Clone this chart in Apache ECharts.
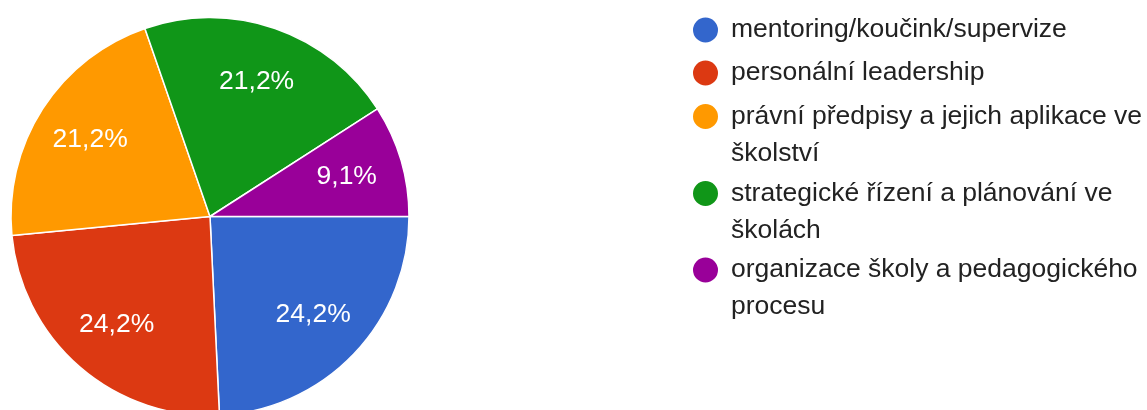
<!DOCTYPE html>
<html>
<head>
<meta charset="utf-8">
<script src="https://cdn.jsdelivr.net/npm/echarts@6/dist/echarts.min.js"></script>
<style>
html,body{margin:0;padding:0;background:#fff;}
#chart{width:1147px;height:410px;}
</style>
</head>
<body>
<div id="chart"></div>
<script>
const categories = [
  'mentoring/koučink/supervize',
  'personální leadership',
  'právní předpisy a jejich aplikace ve školství',
  'strategické řízení a plánování ve školách',
  'organizace školy a pedagogického procesu'
];
const counts = [8, 8, 7, 7, 3];
const colors = ['#3366cc', '#dc3912', '#ff9900', '#109618', '#990099'];

const FONT = '"Liberation Sans", Arial, sans-serif';
const FONT_SIZE = 26.5;
const WRAP_WIDTH = 416;
const total = counts.reduce((a, b) => a + b, 0);

// word-wrap legend text by measuring it
const ctx = document.createElement('canvas').getContext('2d');
ctx.font = FONT_SIZE + 'px ' + FONT;
function wrapLines(text) {
  const words = text.split(' ');
  const lines = [];
  let cur = '';
  words.forEach(w => {
    const test = cur ? cur + ' ' + w : w;
    if (cur && ctx.measureText(test).width > WRAP_WIDTH) {
      lines.push(cur);
      cur = w;
    } else {
      cur = test;
    }
  });
  if (cur) lines.push(cur);
  return lines;
}

// one legend component per item so wrapped items keep icon on the first line
const LINE_H = 37;
const iconCenters = [30, 73, 116.5, 193.5, 270];
const legends = categories.map((n, i) => {
  const lines = wrapLines(n);
  const multi = lines.length > 1;
  // leading empty line(s) keep the first text line centred on the icon
  const pad = multi ? lines.length - 1 : 0;
  const above = (pad + lines.length) * LINE_H / 2; // half text block height
  return {
    orient: 'vertical',
    left: 691,
    top: iconCenters[i] - above,
    padding: 0,
    icon: 'circle',
    itemWidth: 27,
    itemHeight: 27,
    selectedMode: false,
    data: [n],
    formatter: () => '\n'.repeat(pad) + lines.join('\n'),
    textStyle: {
      fontFamily: FONT,
      fontSize: FONT_SIZE,
      lineHeight: LINE_H,
      color: '#222222',
      padding: [0, 0, 0, 7]
    }
  };
});

const chart = echarts.init(document.getElementById('chart'), null, { renderer: 'canvas' });
chart.setOption({
  animation: false,
  backgroundColor: '#ffffff',
  legend: legends,
  series: [
    {
      type: 'pie',
      center: [210, 216.5],
      radius: [0, 199],
      startAngle: 0,
      clockwise: true,
      label: { show: false },
      labelLine: { show: false },
      itemStyle: { borderColor: '#ffffff', borderWidth: 1.5 },
      emphasis: { disabled: true },
      data: categories.map((n, i) => ({ name: n, value: counts[i], itemStyle: { color: colors[i] } }))
    },
    {
      type: 'pie',
      center: [210, 216.5],
      radius: [80, 199],
      startAngle: 0,
      clockwise: true,
      silent: true,
      legendHoverLink: false,
      itemStyle: { color: 'rgba(0,0,0,0)' },
      label: {
        show: true,
        position: 'inside',
        color: '#ffffff',
        fontFamily: FONT,
        fontSize: FONT_SIZE,
        formatter: p => (p.value / total * 100).toFixed(1).replace('.', ',') + '%'
      },
      labelLine: { show: false },
      emphasis: { disabled: true },
      data: categories.map((n, i) => ({ name: n, value: counts[i] }))
    }
  ]
});
</script>
</body>
</html>
